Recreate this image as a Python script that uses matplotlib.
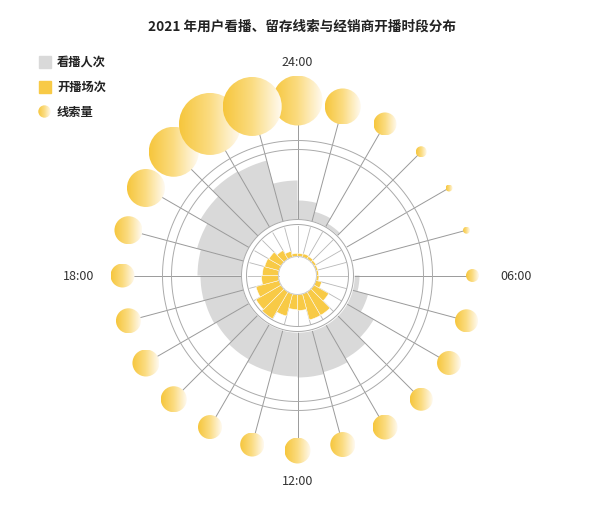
import numpy as np
import matplotlib
matplotlib.use('Agg')
import matplotlib.pyplot as plt
from matplotlib.patches import Circle, Rectangle
from matplotlib.colors import LinearSegmentedColormap

plt.rcParams['font.family'] = ['Noto Sans CJK SC', 'DejaVu Sans']

# ---- data (relative units) ----
hours = np.arange(24)
views = [19, 10, 4, 0.5, 0.3, 0.5, 6, 17, 32, 40, 44, 46,
         45, 44, 41, 38, 40, 41, 44, 48, 56, 64, 63, 39]          # 看播人次
streams = [3, 3.5, 3, 2.5, 2, 2, 2.5, 6, 17, 27, 27, 16,
           15, 23, 31, 29, 24, 17, 16, 15, 14, 10, 6, 3]           # 开播场次
leads = [50, 36, 23, 11, 7, 7, 13, 23, 24, 23, 25, 25,
         26, 24, 24, 26, 27, 25, 24, 28, 38, 50, 62, 59]           # 线索量
hour_labels = ['24:00', '06:00', '12:00', '18:00']
legend_labels = ['看播人次', '开播场次', '线索量']
title = '2021 年用户看播、留存线索与经销商开播时段分布'

# ---- layout (pixels) ----
W, H = 600, 506
CX, CY = 297.5, 229.5
R_AX = 220
HOLE, IN1, IN2, OUT1, OUT2, BUB = 19, 51, 56, 126, 135, 175

GRAY = '#d9d9d9'
YELLOW = '#f8ca46'
cmap = LinearSegmentedColormap.from_list('bub', ['#f6c63c', '#fbdc82', '#fffaf0'])

fig = plt.figure(figsize=(W / 100, H / 100), dpi=100)
fig.patch.set_facecolor('white')

ax = fig.add_axes([(CX - R_AX) / W, (CY - R_AX) / H, 2 * R_AX / W, 2 * R_AX / H],
                  projection='polar')
ax.set_theta_zero_location('N')
ax.set_theta_direction(-1)
ax.set_ylim(0, R_AX)
ax.axis('off')

theta = np.deg2rad(hours * 15)
step = np.deg2rad(15)

# gray bars (看播人次)
ax.bar(theta, views, width=step, bottom=IN2, align='edge', color=GRAY, zorder=1)

# spokes
for t in theta:
    ax.plot([t, t], [HOLE, IN1], color='#b8b8b8', lw=0.6, zorder=2)
    ax.plot([t, t], [IN2, BUB], color='#9a9a9a', lw=0.7, zorder=2)

# yellow bars (开播场次)
ax.bar(theta, streams, width=step, bottom=HOLE, align='edge', color=YELLOW,
       edgecolor='white', linewidth=0.35, zorder=3)

# rings
th = np.linspace(0, 2 * np.pi, 361)
ax.fill_between(th, IN1, IN2, color='white', zorder=4)
for r, c in [(HOLE, '#cccccc'), (IN1, '#aaaaaa'), (IN2, '#aaaaaa'),
             (OUT1, '#aaaaaa'), (OUT2, '#aaaaaa')]:
    ax.plot(th, np.full_like(th, r), color=c, lw=0.7, zorder=5)

# hour labels
lab_pos = [(0, 208, 'center', 'bottom'), (np.pi / 2, 203, 'left', 'center'),
           (np.pi, 199, 'center', 'top'), (3 * np.pi / 2, 203, 'right', 'center')]
for (t, r, ha, va), s in zip(lab_pos, hour_labels):
    ax.text(t, r, s, ha=ha, va=va, fontsize=9, color='#333333')

# ---- overlay in pixel units for gradient bubbles and legend ----
axb = fig.add_axes([0, 0, 1, 1])
axb.axis('off')
grad = np.linspace(0, 1, 128).reshape(1, -1)


def bubble(x, y, rad):
    circ = Circle((x, y), rad, facecolor='none', edgecolor='none')
    axb.add_patch(circ)
    im = axb.imshow(grad, cmap=cmap, extent=(x - rad, x + rad, y - rad, y + rad),
                    aspect='auto', interpolation='bilinear', zorder=3)
    im.set_clip_path(circ)


for t, v in zip(theta, leads):
    bubble(CX + BUB * np.sin(t), CY + BUB * np.cos(t), v / 2)

# legend
leg_y = [H - 62.5, H - 87.5, H - 112.5]
axb.add_patch(Rectangle((38.5, leg_y[0] - 6), 12, 12, color=GRAY))
axb.add_patch(Rectangle((38.5, leg_y[1] - 6), 12, 12, color=YELLOW))
bubble(44.5, leg_y[2], 6.2)
for y, s in zip(leg_y, legend_labels):
    axb.text(57, y, s, ha='left', va='center', fontsize=8.8, color='#222222',
             fontweight='bold')

axb.set_xlim(0, W)
axb.set_ylim(0, H)

fig.text(302 / W, 1 - 27 / H, title, ha='center', va='center',
         fontsize=9.8, fontweight='bold', color='#222222')

fig.savefig('out.png', dpi=100, facecolor='white')
